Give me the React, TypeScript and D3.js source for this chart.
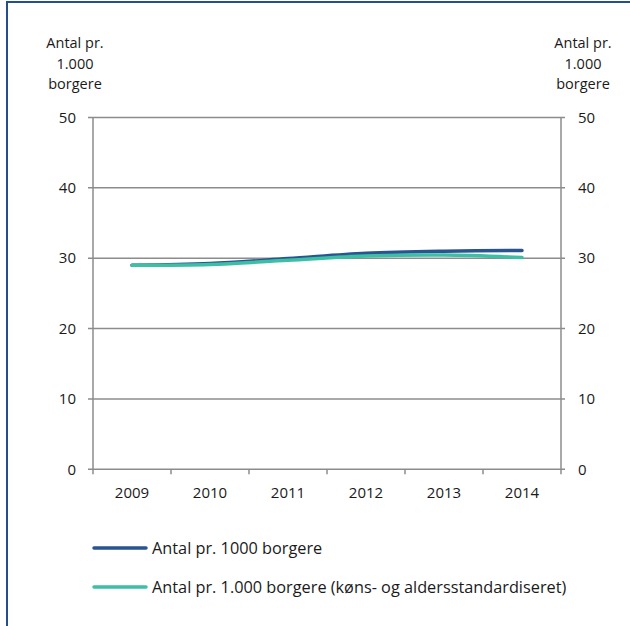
import React from "react";
import * as d3 from "d3";

const years = ["2009", "2010", "2011", "2012", "2013", "2014"];
const seriesCrude = [29.0, 29.25, 29.95, 30.7, 31.0, 31.1];
const seriesStd = [29.0, 29.1, 29.7, 30.3, 30.45, 30.1];
const yTicks = [0, 10, 20, 30, 40, 50];
const seriesNames = [
  "Antal pr. 1000 borgere",
  "Antal pr. 1.000 borgere (køns- og aldersstandardiseret)",
];
const seriesColors = ["#2a5391", "#3cbfa4"];
const axisTitle = ["Antal pr.", "1.000", "borgere"];

const W = 630;
const H = 626;
const plot = { left: 93, right: 561, top: 117.5, bottom: 469.3 };
const FONT = "'Open Sans', Lato, sans-serif";

export default function App() {
  const x = d3.scaleBand().domain(years).range([plot.left, plot.right]).padding(0);
  const y = d3.scaleLinear().domain([0, 50]).range([plot.bottom, plot.top]);
  const cx = (d: string) => (x(d) as number) + x.bandwidth() / 2;
  const line = d3
    .line<number>()
    .x((_, i) => cx(years[i]))
    .y((v) => y(v))
    .curve(d3.curveCatmullRom.alpha(0.5));
  const series = [seriesCrude, seriesStd];
  const grid = "#8c8c8c";
  const edges = years.map((d) => x(d) as number).concat([plot.right]);

  return (
    <svg
      width={W}
      height={H}
      style={{ position: "absolute", left: 0, top: 0, display: "block" }}
      fontFamily={FONT}
    >
      <rect x={0} y={0} width={W} height={H} fill="#fff" />
      <rect x={7} y={2} width={W + 20} height={H + 20} fill="none" stroke="#23508a" strokeWidth={2} />

      {yTicks.map((t) => (
        <line key={"g" + t} x1={plot.left - 5} x2={plot.right + 4} y1={y(t)} y2={y(t)} stroke={grid} strokeWidth={1.5} />
      ))}
      <line x1={plot.left} x2={plot.left} y1={plot.top} y2={plot.bottom} stroke={grid} strokeWidth={1.5} />
      <line x1={plot.right} x2={plot.right} y1={plot.top} y2={plot.bottom} stroke={grid} strokeWidth={1.5} />
      {edges.map((e, i) => (
        <line key={"xt" + i} x1={e} x2={e} y1={plot.bottom} y2={plot.bottom + 5} stroke={grid} strokeWidth={1.5} />
      ))}

      {yTicks.map((t) => (
        <g key={"yl" + t} fontSize={15} fill="#1a1a1a">
          <text x={76} y={y(t)} dy="0.35em" textAnchor="end">{t}</text>
          <text x={578} y={y(t)} dy="0.35em" textAnchor="start">{t}</text>
        </g>
      ))}

      {years.map((d) => (
        <text key={"xl" + d} x={cx(d)} y={493} dy="0.35em" textAnchor="middle" fontSize={15} fill="#1a1a1a">
          {d}
        </text>
      ))}

      {axisTitle.map((s, i) => (
        <g key={"at" + i} fontSize={14.5} fill="#1a1a1a" textAnchor="middle">
          <text x={75} y={48 + i * 20.5}>{s}</text>
          <text x={583} y={48 + i * 20.5}>{s}</text>
        </g>
      ))}

      {series.map((s, i) => (
        <path key={"s" + i} d={line(s) || ""} fill="none" stroke={seriesColors[i]} strokeWidth={3.5} strokeLinecap="round" />
      ))}

      {seriesNames.map((n, i) => (
        <g key={"lg" + i}>
          <line x1={94} x2={146} y1={548 + i * 39} y2={548 + i * 39} stroke={seriesColors[i]} strokeWidth={3.5} strokeLinecap="round" />
          <text x={152} y={548 + i * 39} dy="0.35em" fontSize={16.3} fill="#1a1a1a">{n}</text>
        </g>
      ))}
    </svg>
  );
}
